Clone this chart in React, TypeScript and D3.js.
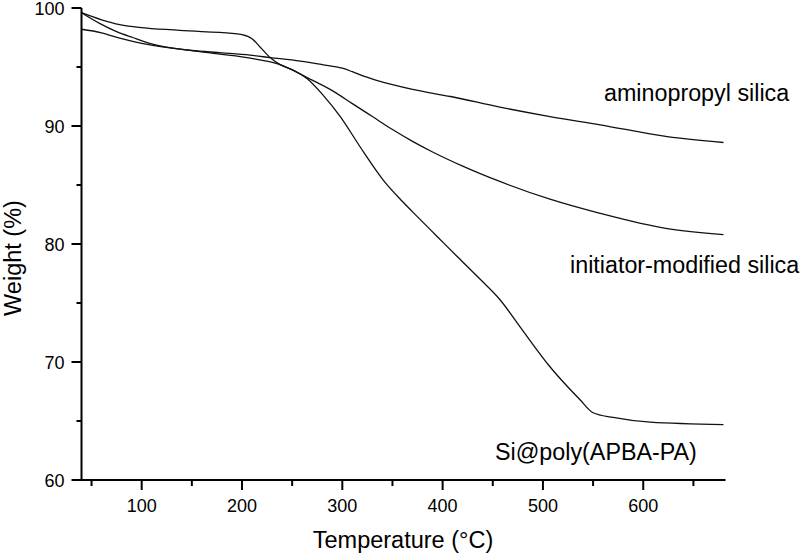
import React from "react";
import * as d3 from "d3";

const xTicksMajor = [100, 200, 300, 400, 500, 600];
const xTicksMinor = [50, 150, 250, 350, 450, 550, 650];
const yTicksMajor = [60, 70, 80, 90, 100];
const yTicksMinor = [65, 75, 85, 95];

const aminoT = [40, 60, 80, 100, 130, 150, 180, 208, 228, 258, 280, 300, 310, 322, 335, 350, 370, 408, 457, 507, 557, 624, 680];
const aminoW = [98.2, 97.9, 97.4, 97.0, 96.6, 96.4, 96.2, 96.0, 95.8, 95.5, 95.2, 94.9, 94.6, 94.2, 93.85, 93.5, 93.1, 92.5, 91.6, 90.8, 90.1, 89.1, 88.6];

const initT = [40, 58, 75, 91, 108, 158, 205, 238, 265, 290, 310, 330, 350, 370, 390, 420, 457, 507, 557, 624, 680];
const initW = [99.6, 98.7, 98.0, 97.5, 97.0, 96.3, 95.8, 95.2, 94.1, 93.0, 91.9, 90.8, 89.7, 88.7, 87.8, 86.6, 85.3, 83.8, 82.6, 81.3, 80.8];

const polyT = [40, 60, 78, 138, 190, 200, 210, 218, 228, 238, 252, 265, 281, 298, 318, 341, 360, 375, 395, 415, 440, 457, 477, 507, 537, 550, 570, 607, 680];
const polyW = [99.6, 99.0, 98.6, 98.1, 97.85, 97.75, 97.4, 96.7, 95.8, 95.2, 94.7, 94.0, 92.6, 90.8, 88.2, 85.4, 83.6, 82.3, 80.6, 78.9, 76.8, 75.3, 73.0, 69.6, 66.8, 65.7, 65.3, 64.9, 64.7];

const seriesLabels = ["aminopropyl silica", "initiator-modified silica", "Si@poly(APBA-PA)"];

export default function App() {
  const x = d3.scaleLinear().domain([40, 682]).range([81.5, 725.5]);
  const y = d3.scaleLinear().domain([60, 100]).range([480, 8]);
  const font = "'Liberation Sans', Arial, sans-serif";

  const line = d3
    .line<[number, number]>()
    .x((d) => x(d[0]))
    .y((d) => y(d[1]))
    .curve(d3.curveMonotoneX);

  const series = [
    aminoT.map((t, i) => [t, aminoW[i]] as [number, number]),
    initT.map((t, i) => [t, initW[i]] as [number, number]),
    polyT.map((t, i) => [t, polyW[i]] as [number, number]),
  ];

  const x0 = x(40);
  const y0 = y(60);

  return (
    <svg
      width={800}
      height={553}
      style={{ position: "absolute", left: 0, top: 0, background: "#fff" }}
      fontFamily={font}
    >
      <rect width={800} height={553} fill="#fff" />
      {series.map((s, i) => (
        <path key={i} d={line(s) || ""} fill="none" stroke="#111" strokeWidth={1.3} />
      ))}
      <line x1={x0} x2={x(682)} y1={y0} y2={y0} stroke="#000" strokeWidth={2} />
      <line x1={x0} x2={x0} y1={y(100)} y2={y0 + 1} stroke="#000" strokeWidth={2} />
      {xTicksMajor.map((t) => (
        <g key={"xm" + t}>
          <line x1={x(t)} x2={x(t)} y1={y0} y2={y0 + 10} stroke="#000" strokeWidth={2} />
          <text x={x(t)} y={512} fontSize={18} textAnchor="middle" fill="#000">
            {t}
          </text>
        </g>
      ))}
      {xTicksMinor.map((t) => (
        <line key={"xn" + t} x1={x(t)} x2={x(t)} y1={y0} y2={y0 + 6} stroke="#000" strokeWidth={2} />
      ))}
      {yTicksMajor.map((t) => (
        <g key={"ym" + t}>
          <line x1={x0 - 10} x2={x0} y1={y(t)} y2={y(t)} stroke="#000" strokeWidth={2} />
          <text x={x0 - 17} y={y(t) + 6.5} fontSize={18} textAnchor="end" fill="#000">
            {t}
          </text>
        </g>
      ))}
      {yTicksMinor.map((t) => (
        <line key={"yn" + t} x1={x0 - 5} x2={x0} y1={y(t)} y2={y(t)} stroke="#000" strokeWidth={2} />
      ))}
      <text x={403} y={548} fontSize={23.5} textAnchor="middle" fill="#000">
        Temperature (°C)
      </text>
      <text
        transform={`translate(21,258) rotate(-90)`}
        fontSize={23.5}
        textAnchor="middle"
        fill="#000"
      >
        Weight (%)
      </text>
      <text x={604} y={101} fontSize={23.3} fill="#000">
        {seriesLabels[0]}
      </text>
      <text x={570} y={273} fontSize={23.3} fill="#000">
        {seriesLabels[1]}
      </text>
      <text x={495} y={460} fontSize={23.3} fill="#000">
        {seriesLabels[2]}
      </text>
    </svg>
  );
}
